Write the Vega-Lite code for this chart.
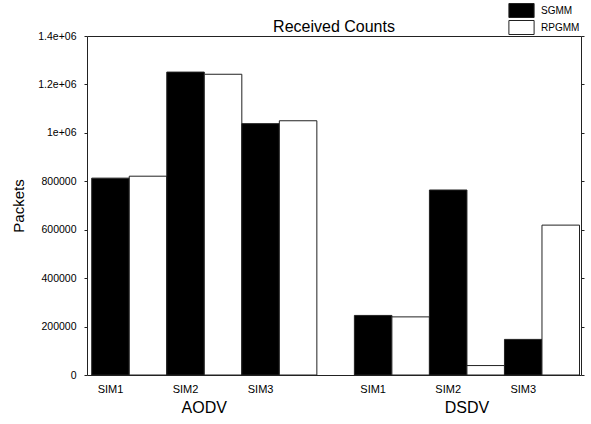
{
  "$schema": "https://vega.github.io/schema/vega-lite/v6.json",
  "width": 494,
  "height": 339,
  "autosize": {"type": "none"},
  "padding": {"left": 87, "top": 36, "right": 10, "bottom": 49},
  "background": "white",
  "config": {
    "font": "Liberation Sans",
    "view": {"stroke": "#222", "strokeWidth": 1},
    "axis": {"labelColor": "black", "titleColor": "black", "tickColor": "#222", "grid": false, "domain": false}
  },
  "title": {"text": "Received Counts", "fontSize": 16, "fontWeight": "normal", "color": "black", "anchor": "middle", "frame": "group", "baseline": "alphabetic", "offset": 2, "dy": 47},
  "data": {
    "values": [
      {"protocol": "AODV", "sim": "SIM1", "series": "SGMM", "bar": "AODV SIM1 SGMM", "value": 813000},
      {"protocol": "AODV", "sim": "SIM1", "series": "RPGMM", "bar": "AODV SIM1 RPGMM", "value": 821000},
      {"protocol": "AODV", "sim": "SIM2", "series": "SGMM", "bar": "AODV SIM2 SGMM", "value": 1251000},
      {"protocol": "AODV", "sim": "SIM2", "series": "RPGMM", "bar": "AODV SIM2 RPGMM", "value": 1242000},
      {"protocol": "AODV", "sim": "SIM3", "series": "SGMM", "bar": "AODV SIM3 SGMM", "value": 1038000},
      {"protocol": "AODV", "sim": "SIM3", "series": "RPGMM", "bar": "AODV SIM3 RPGMM", "value": 1050000},
      {"protocol": "DSDV", "sim": "SIM1", "series": "SGMM", "bar": "DSDV SIM1 SGMM", "value": 246000},
      {"protocol": "DSDV", "sim": "SIM1", "series": "RPGMM", "bar": "DSDV SIM1 RPGMM", "value": 240000},
      {"protocol": "DSDV", "sim": "SIM2", "series": "SGMM", "bar": "DSDV SIM2 SGMM", "value": 764000},
      {"protocol": "DSDV", "sim": "SIM2", "series": "RPGMM", "bar": "DSDV SIM2 RPGMM", "value": 39000},
      {"protocol": "DSDV", "sim": "SIM3", "series": "SGMM", "bar": "DSDV SIM3 SGMM", "value": 147000},
      {"protocol": "DSDV", "sim": "SIM3", "series": "RPGMM", "bar": "DSDV SIM3 RPGMM", "value": 619000}
    ]
  },
  "encoding": {
    "x": {
      "field": "bar",
      "type": "nominal",
      "sort": null,
      "scale": {
        "domain": ["AODV SIM1 SGMM", "AODV SIM1 RPGMM", "AODV SIM2 SGMM", "AODV SIM2 RPGMM", "AODV SIM3 SGMM", "AODV SIM3 RPGMM", "gap", "DSDV SIM1 SGMM", "DSDV SIM1 RPGMM", "DSDV SIM2 SGMM", "DSDV SIM2 RPGMM", "DSDV SIM3 SGMM", "DSDV SIM3 RPGMM"],
        "paddingInner": 0,
        "paddingOuter": 0.083,
        "align": 0.76
      },
      "axis": {
        "title": null,
        "values": ["AODV SIM1 SGMM", "AODV SIM2 SGMM", "AODV SIM3 SGMM", "DSDV SIM1 SGMM", "DSDV SIM2 SGMM", "DSDV SIM3 SGMM"],
        "bandPosition": 1,
        "labelExpr": "split(datum.value, ' ')[1]",
        "ticks": false,
        "tickSize": 0,
        "labelAngle": 0,
        "labelFontSize": 11,
        "labelPadding": 8
      }
    }
  },
  "layer": [
    {
      "mark": {"type": "bar", "stroke": "#222", "strokeWidth": 1},
      "encoding": {
        "y": {
          "field": "value",
          "type": "quantitative",
          "scale": {"domain": [0, 1400000], "nice": false},
          "axis": {
            "title": "Packets",
            "titleFontSize": 15,
            "titleFontWeight": "normal",
            "titlePadding": 11,
            "values": [0, 200000, 400000, 600000, 800000, 1000000, 1200000, 1400000],
            "labelExpr": "datum.value >= 1000000 ? replace(format(datum.value, '.2~e'), 'e+6', 'e+06') : format(datum.value, 'd')",
            "labelFontSize": 10.5,
            "tickSize": 3,
            "labelPadding": 8
          }
        },
        "color": {
          "field": "series",
          "type": "nominal",
          "scale": {"domain": ["SGMM", "RPGMM"], "range": ["black", "white"]},
          "legend": {
            "title": null,
            "orient": "none",
            "legendX": 427,
            "legendY": -33,
            "padding": 0,
            "symbolType": "M-1.8,-1L1.8,-1L1.8,1L-1.8,1Z",
            "symbolSize": 196,
            "symbolStrokeColor": "#222",
            "symbolStrokeWidth": 1,
            "symbolOpacity": 1,
            "labelFontSize": 10,
            "labelColor": "black",
            "labelOffset": 12,
            "rowPadding": -3
          }
        }
      }
    },
    {
      "transform": [{"filter": "datum.sim == 'SIM2' && datum.series == 'SGMM'"}],
      "mark": {"type": "text", "fontSize": 16, "baseline": "middle", "align": "center", "dy": 33, "color": "black"},
      "encoding": {
        "x": {"field": "bar", "type": "nominal", "bandPosition": 1},
        "y": {
          "datum": 0,
          "type": "quantitative",
          "axis": {
            "orient": "right",
            "title": null,
            "labels": false,
            "tickSize": 3,
            "values": [0, 200000, 400000, 600000, 800000, 1000000, 1200000, 1400000]
          }
        },
        "text": {"field": "protocol"}
      }
    }
  ],
  "resolve": {"axis": {"y": "independent"}}
}
